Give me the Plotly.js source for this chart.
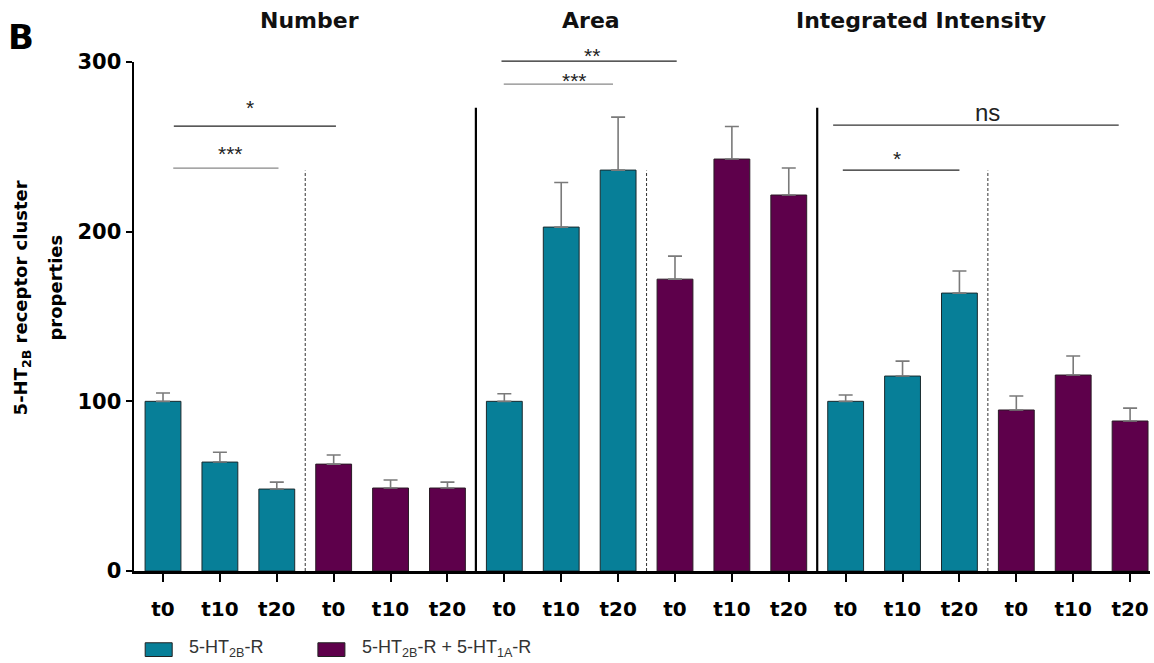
<!DOCTYPE html>
<html>
<head>
<meta charset="utf-8">
<script src="https://cdn.plot.ly/plotly-3.0.1.min.js"></script>
<style>html,body{margin:0;padding:0;background:#fff;}#chart{width:1154px;height:663px;}</style>
</head>
<body>
<div id="chart"></div>
<script>
// ---- data ----
const panels = ["Number", "Area", "Integrated Intensity"];
const timepoints = ["t0", "t10", "t20"];
const seriesNames = ["5-HT<sub>2B</sub>-R", "5-HT<sub>2B</sub>-R + 5-HT<sub>1A</sub>-R"];
// per panel: [t0, t10, t20]
const ht2bMean = [[100, 64.2, 48.3], [100, 202.7, 236.3], [100, 114.9, 163.8]];
const ht2bErr  = [[4.9, 5.8, 4.1],   [4.5, 26.3, 31.2],    [3.7, 8.8, 13.0]];
const comboMean = [[63.0, 48.9, 48.9], [172.0, 242.8, 221.6], [94.9, 115.5, 88.4]];
const comboErr  = [[5.4, 4.7, 3.5],    [13.6, 19.2, 15.9],    [8.2, 11.2, 7.6]];
const sigLabels = ["*", "***", "**", "***", "ns", "*"];

// ---- build ----
const teal = "#077F98", purple = "#5E004B";
const BOLD = "DejaVu Sans, Liberation Sans, Arial, sans-serif";
const ARIAL = "Liberation Sans, Arial, Helvetica, sans-serif";
const xT = [], yT = [], eT = [], xP = [], yP = [], eP = [];
const tickvals = [], ticktext = [];
panels.forEach((p, pi) => {
  for (let k = 0; k < 3; k++) {
    const pos = pi * 6 + k;
    xT.push(pos); yT.push(ht2bMean[pi][k]); eT.push(ht2bErr[pi][k]);
    xP.push(pos + 3); yP.push(comboMean[pi][k]); eP.push(comboErr[pi][k]);
  }
  for (let k = 0; k < 6; k++) { tickvals.push(pi * 6 + k); ticktext.push(timepoints[k % 3]); }
});

const errStyle = (arr) => ({type: "data", array: arr, arrayminus: arr.map(() => 0), symmetric: false,
  color: "#7a7a7a", thickness: 1.6, width: 7, visible: true});

const traces = [
  {type: "bar", x: xT, y: yT, name: seriesNames[0], marker: {color: teal, line: {color: "#1a2a2e", width: 1}},
   width: 0.63, error_y: errStyle(eT), showlegend: false, hoverinfo: "x+y"},
  {type: "bar", x: xP, y: yP, name: seriesNames[1], marker: {color: purple, line: {color: "#2a1a25", width: 1}},
   width: 0.63, error_y: errStyle(eP), showlegend: false, hoverinfo: "x+y"}
];

const YMAX = 300;
const py = v => v / YMAX; // data value -> paper fraction (avoids clipping above the axis)
const shapes = [];
const annotations = [];
[5.5, 11.5].forEach(x => shapes.push({type: "line", xref: "x", yref: "paper", x0: x, x1: x, y0: 0, y1: py(273),
  line: {color: "#000", width: 2.2}}));
[2.5, 8.5, 14.5].forEach(x => shapes.push({type: "line", xref: "x", yref: "paper", x0: x, x1: x, y0: 0, y1: py(236),
  line: {color: "#333", width: 1, dash: "3px,2px"}}));

const sigGeom = [
  {x0: 0.19, x1: 3.04, y: 262.2, ty: 273, tx: 1.53, col: "#222"},
  {x0: 0.18, x1: 2.03, y: 237.5, ty: 246, tx: 1.18, col: "#888"},
  {x0: 5.95, x1: 9.03, y: 300.5, ty: 304, tx: 7.54, col: "#222"},
  {x0: 5.99, x1: 7.91, y: 287.0, ty: 289, tx: 7.24, col: "#888"},
  {x0: 11.78, x1: 16.80, y: 262.8, ty: 270.5, tx: 14.5, col: "#333"},
  {x0: 11.95, x1: 14.0, y: 236.3, ty: 243, tx: 12.9, col: "#222"}
];
sigGeom.forEach((g, i) => {
  shapes.push({type: "line", xref: "x", yref: "paper", x0: g.x0, x1: g.x1, y0: py(g.y), y1: py(g.y), line: {color: g.col, width: 1.2}});
  const isNs = sigLabels[i] === "ns";
  annotations.push({xref: "x", yref: "paper", x: g.tx, y: py(g.ty), text: sigLabels[i], showarrow: false,
    font: {family: ARIAL, size: isNs ? 24 : 21, color: "#222"}, yanchor: "middle"});
});

const titleX = [2.58, 7.52, 13.32];
panels.forEach((p, i) => annotations.push({xref: "x", yref: "paper", x: titleX[i], y: 1.082, text: "<b>" + p + "</b>",
  showarrow: false, yanchor: "middle", font: {family: BOLD, size: 22, color: "#111"}}));

annotations.push({xref: "paper", yref: "paper", x: -0.111, y: 1.049, text: "<b>B</b>", showarrow: false,
  xanchor: "center", yanchor: "middle", font: {family: BOLD, size: 34, color: "#000"}});

// y-axis title (two lines)
annotations.push({xref: "paper", yref: "paper", x: -0.1105, y: 0.537, textangle: -90, showarrow: false,
  text: "<b>5-HT<sub>2B</sub> receptor cluster</b>", xanchor: "center", yanchor: "middle",
  font: {family: BOLD, size: 18, color: "#000"}});
annotations.push({xref: "paper", yref: "paper", x: -0.0777, y: 0.557, textangle: -90, showarrow: false,
  text: "<b>properties</b>", xanchor: "center", yanchor: "middle",
  font: {family: BOLD, size: 18, color: "#000"}});

// custom legend
const legX = [0.011, 0.181];
const legColors = [teal, purple];
legX.forEach((lx, i) => {
  shapes.push({type: "rect", xref: "paper", yref: "paper", x0: lx, x1: lx + 0.0266, y0: -0.141, y1: -0.168,
    fillcolor: legColors[i], line: {color: "#222", width: 1}});
  annotations.push({xref: "paper", yref: "paper", x: lx + 0.041, y: -0.153, text: seriesNames[i], showarrow: false,
    xanchor: "left", yanchor: "middle", font: {family: ARIAL, size: 18, color: "#333"}});
});

const layout = {
  width: 1154, height: 663,
  margin: {l: 134, r: 4, t: 62, b: 92, pad: 0},
  paper_bgcolor: "#fff", plot_bgcolor: "#fff",
  barmode: "overlay", bargap: 0,
  font: {family: BOLD, color: "#000"},
  xaxis: {range: [-0.51, 17.35], tickvals: tickvals, ticktext: ticktext, showline: true, linecolor: "#000", linewidth: 2.5,
    ticks: "outside", ticklen: 8, tickwidth: 2, tickcolor: "#000", showgrid: false, zeroline: false,
    ticklabelstandoff: 10,
    tickfont: {family: BOLD, size: 20, color: "#000", weight: "bold"}, fixedrange: true},
  yaxis: {range: [0, YMAX], tickvals: [0, 100, 200, 300], showline: true, linecolor: "#000", linewidth: 2.5,
    ticks: "outside", ticklen: 6, tickwidth: 2, tickcolor: "#000", showgrid: false, zeroline: false,
    tickfont: {family: BOLD, size: 21, color: "#000", weight: "bold"}, fixedrange: true},
  shapes: shapes,
  annotations: annotations,
  showlegend: false
};

Plotly.newPlot("chart", traces, layout, {displayModeBar: false, staticPlot: true});
</script>
</body>
</html>
